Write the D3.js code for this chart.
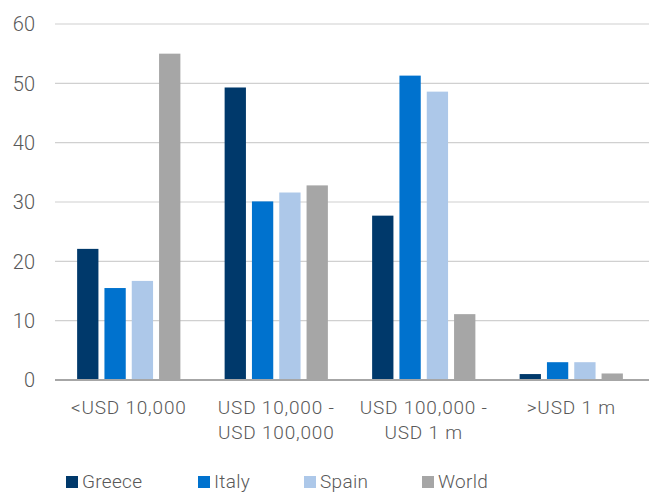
<!DOCTYPE html>
<html>
<head>
<meta charset="utf-8">
<script src="https://cdn.jsdelivr.net/npm/d3@7"></script>
<style>
  body { margin: 0; background: #fff; }
  text { font-family: Roboto, "Liberation Sans", sans-serif; font-weight: 300; fill: #595959; }
</style>
</head>
<body>
<div id="chart"></div>
<script>
// categories (two-line labels) and series
const categories = ["<USD 10,000", "USD 10,000 - USD 100,000", "USD 100,000 - USD 1 m", ">USD 1 m"];
const catLines = [["<USD 10,000"], ["USD 10,000 -", "USD 100,000"], ["USD 100,000 -", "USD 1 m"], [">USD 1 m"]];
const seriesNames = ["Greece", "Italy", "Spain", "World"];
const greece = [22.1, 49.3, 27.7, 1.0];
const italy = [15.5, 30.1, 51.3, 3.0];
const spain = [16.7, 31.6, 48.6, 3.0];
const world = [55.0, 32.8, 11.1, 1.1];
const yTicks = [0, 10, 20, 30, 40, 50, 60];
const colors = ["#00396b", "#0072ce", "#adc8e9", "#a6a6a6"];

const width = 649, height = 493;
const margin = { left: 55, right: 4, top: 24, bottom: 113 };

const svg = d3.select("#chart").append("svg")
    .attr("width", width)
    .attr("height", height);

const x0 = d3.scaleBand()
    .domain(categories)
    .range([margin.left, width - margin.right])
    .paddingInner(0.3)
    .paddingOuter(0.15);

const x1 = d3.scaleBand()
    .domain(seriesNames)
    .range([0, x0.bandwidth()])
    .paddingInner(0.22);

const y = d3.scaleLinear()
    .domain([0, 60])
    .range([height - margin.bottom, margin.top]);

// gridlines
svg.selectAll("line.grid")
    .data(yTicks.filter(function(d) { return d > 0; }))
    .enter()
    .append("line")
        .attr("class", "grid")
        .attr("x1", margin.left)
        .attr("x2", width)
        .attr("y1", function(d) { return y(d); })
        .attr("y2", function(d) { return y(d); })
        .attr("stroke", "#d0d0d0")
        .attr("stroke-width", 1.2);

// y labels
svg.selectAll("text.ylab")
    .data(yTicks)
    .enter()
    .append("text")
        .attr("class", "ylab")
        .attr("x", 35)
        .attr("y", function(d) { return y(d); })
        .attr("dy", "0.36em")
        .attr("text-anchor", "end")
        .attr("font-size", "20px")
        .text(function(d) { return d; });

const series = [greece, italy, spain, world];
const table = [];
categories.forEach(function(c, i) {
    seriesNames.forEach(function(s, j) {
        table.push({ cat: c, name: s, value: series[j][i], color: colors[j] });
    });
});

svg.selectAll("rect.bar")
    .data(table)
    .enter()
    .append("rect")
        .attr("class", "bar")
        .attr("x", function(d) { return x0(d.cat) + x1(d.name); })
        .attr("y", function(d) { return y(d.value); })
        .attr("width", x1.bandwidth())
        .attr("height", function(d) { return y(0) - y(d.value); })
        .attr("fill", function(d) { return d.color; });

// baseline
svg.append("line")
    .attr("x1", margin.left)
    .attr("x2", width)
    .attr("y1", y(0))
    .attr("y2", y(0))
    .attr("stroke", "#a6a6a6")
    .attr("stroke-width", 2);

// x labels
const xl = svg.selectAll("text.xlab")
    .data(categories)
    .enter()
    .append("text")
        .attr("class", "xlab")
        .attr("text-anchor", "middle")
        .attr("font-size", "19px")
        .attr("letter-spacing", "0.8px")
        .attr("x", function(d) { return x0(d) + x0.bandwidth() / 2; })
        .attr("y", 414);

xl.selectAll("tspan")
    .data(function(d, i) { return catLines[i]; })
    .enter()
    .append("tspan")
        .attr("x", function() { return d3.select(this.parentNode).attr("x"); })
        .attr("dy", function(d, i) { return i === 0 ? 0 : 25; })
        .text(function(d) { return d; });

// legend
const legendX = [66, 198, 304, 422];
const lg = svg.selectAll("g.legend")
    .data(seriesNames)
    .enter()
    .append("g")
        .attr("class", "legend")
        .attr("transform", function(d, i) { return "translate(" + legendX[i] + ",476)"; });

lg.append("rect")
    .attr("width", 12)
    .attr("height", 12)
    .attr("fill", function(d, i) { return colors[i]; });

lg.append("text")
    .attr("x", 16)
    .attr("y", 12)
    .attr("font-size", "19px")
    .attr("letter-spacing", "0.3px")
    .text(function(d) { return d; });
</script>
</body>
</html>
